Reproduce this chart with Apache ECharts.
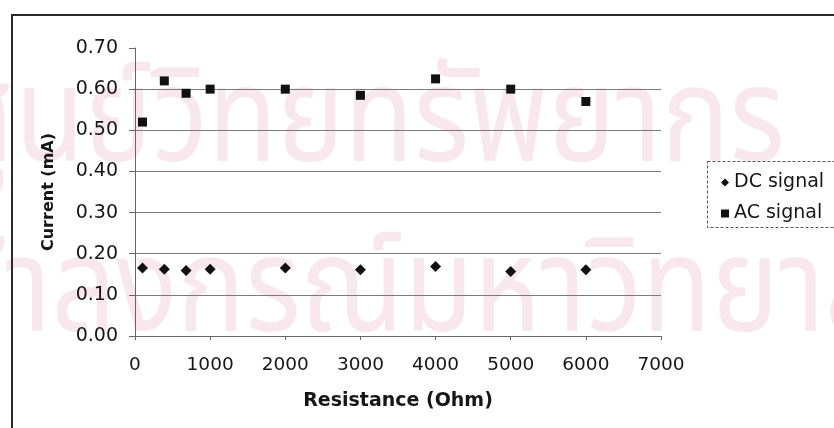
<!DOCTYPE html>
<html>
<head>
<meta charset="utf-8">
<script src="https://cdn.jsdelivr.net/npm/echarts@6/dist/echarts.min.js"></script>
<style>
  html, body { margin: 0; padding: 0; background: #fff; }
  #chart { width: 834px; height: 428px; }
</style>
</head>
<body>
<div id="chart"></div>
<script>
// Load resistance (Ohm) for each measurement
const resistance = [100, 390, 680, 1000, 2000, 3000, 4000, 5000, 6000];
// Measured current (mA)
const dcSignal = [0.165, 0.162, 0.159, 0.162, 0.165, 0.161, 0.169, 0.157, 0.161];
const acSignal = [0.52, 0.62, 0.59, 0.60, 0.60, 0.585, 0.625, 0.60, 0.57];
// Axis ticks
const xTicks = [0, 1000, 2000, 3000, 4000, 5000, 6000, 7000];
const yTicks = [0.00, 0.10, 0.20, 0.30, 0.40, 0.50, 0.60, 0.70];

const FONT = '"DejaVu Sans", Verdana, sans-serif';
const THAI = '"Noto Sans Thai", "Noto Sans", sans-serif';
const INK = '#161616';
const WATERMARK = '#f9e7ee';

const pairs = (xs, ys) => xs.map((x, i) => [x, ys[i]]);

const chart = echarts.init(document.getElementById('chart'), null, { renderer: 'canvas' });

chart.setOption({
  backgroundColor: '#ffffff',
  animation: false,
  textStyle: { fontFamily: FONT },
  grid: { left: 135, right: 173, top: 48, bottom: 92, containLabel: false },
  graphic: [
    // background university watermark
    {
      type: 'text', z: -10, silent: true,
      x: 785, y: 68, scaleX: 0.86, scaleY: 1,
      style: {
        text: 'ศูนย์วิทยทรัพยากร',
        font: '132px ' + THAI,
        fill: WATERMARK,
        align: 'right', verticalAlign: 'top'
      }
    },
    {
      type: 'text', z: -10, silent: true,
      x: -131, y: 238, scaleX: 0.86, scaleY: 1,
      style: {
        text: 'จุฬาลงกรณ์มหาวิทยาลัย',
        font: '132px ' + THAI,
        fill: WATERMARK,
        align: 'left', verticalAlign: 'top'
      }
    },
    // outer chart frame
    {
      type: 'rect', z: 1, silent: true,
      shape: { x: 12, y: 15, width: 840, height: 430 },
      style: { fill: 'none', stroke: '#2a2a2a', lineWidth: 2 }
    },
    // legend frame
    {
      type: 'rect', z: 1, silent: true,
      shape: { x: 707.5, y: 161.5, width: 140, height: 66 },
      style: { fill: '#ffffff', stroke: '#555', lineWidth: 1, lineDash: [3, 2] }
    }
  ],
  legend: {
    orient: 'vertical',
    left: 716, top: 168,
    itemGap: 12,
    itemWidth: 8, itemHeight: 8,
    textStyle: { fontSize: 19, color: INK, fontFamily: FONT, padding: [0, 0, 0, 0] },
    data: [
      { name: 'DC signal', icon: 'diamond' },
      { name: 'AC signal', icon: 'rect' }
    ]
  },
  xAxis: {
    type: 'value',
    min: xTicks[0], max: xTicks[xTicks.length - 1], interval: 1000,
    name: 'Resistance (Ohm)',
    nameLocation: 'middle', nameGap: 56,
    nameTextStyle: { fontSize: 19, fontWeight: 'bold', color: INK, fontFamily: FONT },
    axisLine: { show: true, lineStyle: { color: '#666', width: 1 } },
    axisTick: { show: true, inside: false, length: 4, lineStyle: { color: '#666' } },
    axisLabel: { fontSize: 18.5, color: INK, margin: 20, fontFamily: FONT,
      formatter: v => String(v) },
    splitLine: { show: false }
  },
  yAxis: {
    type: 'value',
    min: yTicks[0], max: yTicks[yTicks.length - 1], interval: 0.1,
    name: 'Current (mA)',
    nameLocation: 'middle', nameGap: 78, nameRotate: 90,
    nameTextStyle: { fontSize: 16, fontWeight: 'bold', color: INK, fontFamily: FONT },
    axisLine: { show: true, lineStyle: { color: '#666', width: 1 } },
    axisTick: { show: true, inside: false, length: 6, lineStyle: { color: '#666' } },
    axisLabel: { fontSize: 19, color: INK, margin: 17, fontFamily: FONT,
      formatter: v => v.toFixed(2) },
    splitLine: { show: true, showMaxLine: false, lineStyle: { color: '#7a7a7a', width: 1 } }
  },
  series: [
    {
      name: 'DC signal', type: 'scatter',
      symbol: 'diamond', symbolSize: [11, 11],
      itemStyle: { color: '#111', opacity: 1 },
      data: pairs(resistance, dcSignal)
    },
    {
      name: 'AC signal', type: 'scatter',
      symbol: 'rect', symbolSize: 9,
      itemStyle: { color: '#111', opacity: 1 },
      data: pairs(resistance, acSignal)
    }
  ]
});
</script>
</body>
</html>
